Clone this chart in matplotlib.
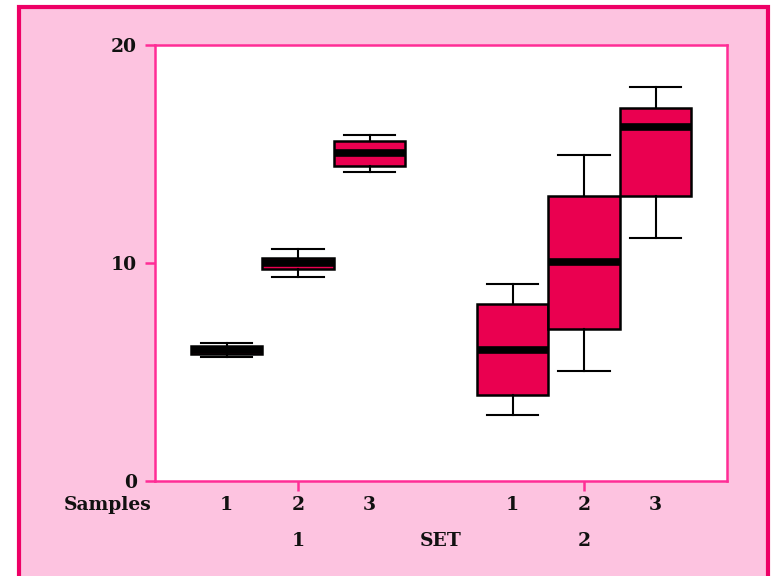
import numpy as np
import matplotlib.pyplot as plt
from matplotlib.patches import Rectangle

# box stats: set 1 and set 2, samples 1..3
set_labels = ['1', '2']
sample_labels = ['1', '2', '3']
positions = [1, 2, 3, 5, 6, 7]
whislo = [5.70, 9.34, 14.17, 3.01, 5.05, 11.13]
q1 = [5.84, 9.72, 14.45, 3.94, 6.99, 13.09]
med = [6.0, 10.0, 15.03, 6.0, 10.03, 16.25]
q3 = [6.19, 10.24, 15.60, 8.10, 13.09, 17.12]
whishi = [6.32, 10.63, 15.87, 9.02, 14.95, 18.09]
yticks = [0, 10, 20]

BG = '#FDC3E0'
FRAME = '#EE0066'
SPINE = '#FF2D96'
BOX = '#EA0050'
FONT = dict(family='DejaVu Serif', weight='bold', size=13.5, color='#111111')

fig = plt.figure(figsize=(7.72, 5.76), dpi=100)
fig.patch.set_facecolor('white')
fig.patches.append(Rectangle((19 / 772, -0.05), (768 - 19) / 772, 1.05 - 7 / 576,
                             transform=fig.transFigure, facecolor=BG,
                             edgecolor=FRAME, linewidth=3, zorder=-10))

ax = fig.add_axes([155 / 772, 95 / 576, 572 / 772, 436 / 576])
ax.set_facecolor('white')

stats = []
for i in range(len(positions)):
    stats.append(dict(whislo=whislo[i], q1=q1[i], med=med[i], q3=q3[i],
                      whishi=whishi[i], fliers=[]))

ax.bxp(stats, positions=positions, widths=1.0, patch_artist=True,
       showfliers=False,
       boxprops=dict(facecolor=BOX, edgecolor='black', linewidth=1.8),
       medianprops=dict(color='black', linewidth=5.5, solid_capstyle='butt'),
       whiskerprops=dict(color='black', linewidth=1.5),
       capprops=dict(color='black', linewidth=1.5),
       capwidths=0.72)

ax.set_xlim(0, 8)
ax.set_ylim(0, 20)
ax.set_yticks(yticks)
ax.set_yticklabels([str(t) for t in yticks], **FONT)
ax.set_xticks([2, 6])
ax.set_xticklabels([])
ax.tick_params(axis='both', direction='out', length=7, width=1.8, color=SPINE, pad=6)
for s in ax.spines.values():
    s.set_color(SPINE)
    s.set_linewidth(1.8)

tr = ax.get_xaxis_transform()
for i, p in enumerate(positions):
    ax.text(p, -0.055, sample_labels[i % 3], transform=tr, ha='center', va='center',
            clip_on=False, **FONT)
ax.text(-0.66, -0.055, 'Samples', transform=tr, ha='center', va='center',
        clip_on=False, **FONT)
for lab, p in zip(set_labels, [2, 6]):
    ax.text(p, -0.138, lab, transform=tr, ha='center', va='center',
            clip_on=False, **FONT)
ax.text(4.0, -0.138, 'SET', transform=tr, ha='center', va='center',
        clip_on=False, **FONT)

fig.savefig('out.png', dpi=100)
